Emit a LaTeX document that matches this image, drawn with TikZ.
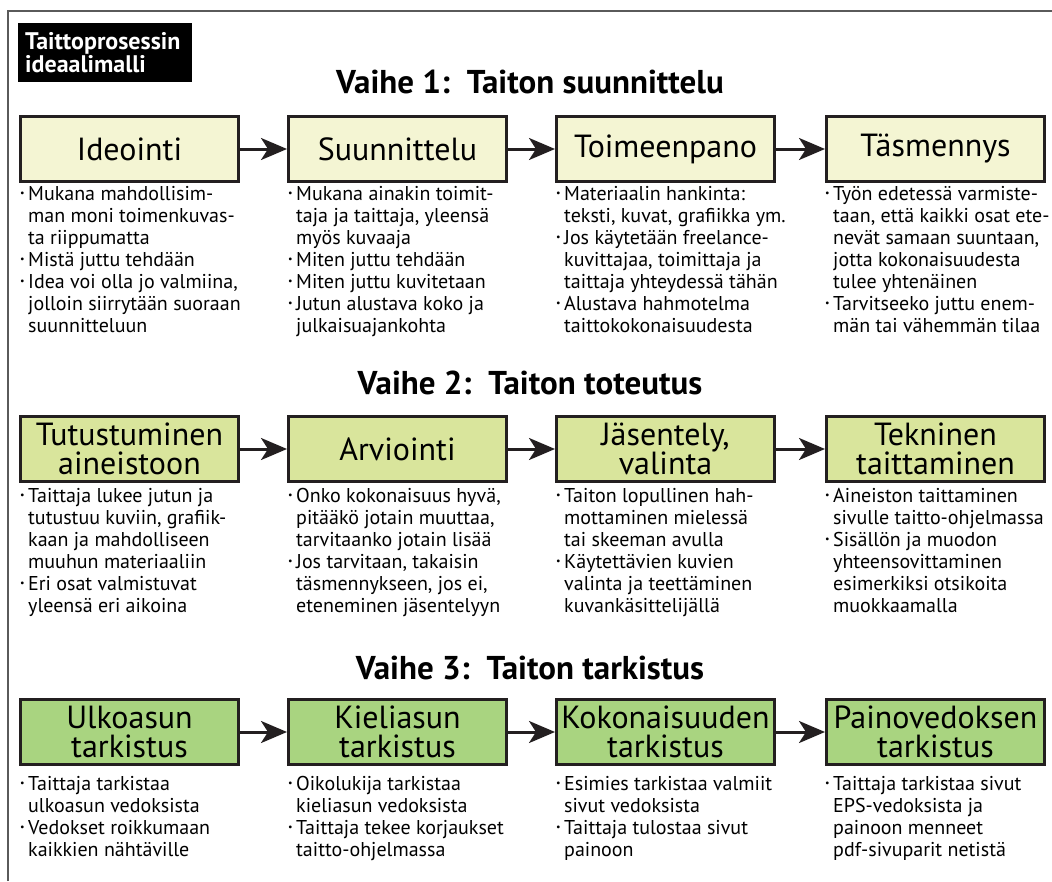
\documentclass[tikz,border=0pt]{standalone}
\usepackage{fontspec}
\setmainfont{PT Sans}
\usetikzlibrary{arrows.meta}
\definecolor{framegray}{HTML}{5A5A5A}
\definecolor{fillA}{HTML}{F4F5D3}
\definecolor{fillB}{HTML}{D9E59C}
\definecolor{fillC}{HTML}{A9D480}
\definecolor{edgec}{HTML}{231F20}
\newcommand\bul{\makebox[8pt][l]{\raisebox{0.2em}{\fontsize{10}{10}\selectfont\textbullet}}}
\newcommand\ind{\hspace*{8pt}}
\tikzset{
  stagebox/.style={draw=edgec, line width=3pt, minimum width=218pt, minimum height=65pt,
    inner sep=0pt, align=center, anchor=north west, font=\fontsize{32}{29.5}\selectfont},
  rowA/.style={stagebox, fill=fillA},
  rowB/.style={stagebox, fill=fillB},
  rowC/.style={stagebox, fill=fillC},
  bullets/.style={anchor=north west, align=left, inner sep=0pt, font=\fontsize{20}{22}\selectfont},
  phasehead/.style={font=\bfseries\fontsize{33}{34}\selectfont, inner sep=0pt},
  arr/.style={draw=edgec, line width=3pt, -{Stealth[length=26pt,width=22pt,inset=7pt]}},
}
\begin{document}
\begin{tikzpicture}[x=1pt,y=-1pt]
\useasboundingbox (0,0) rectangle (1052,881);
\draw[framegray, line width=2pt] (8,881) -- (8,11) -- (1052,11);

\node[fill=black, text=white, anchor=north west, text width=160pt, minimum height=59pt,
  inner xsep=7pt, inner ysep=0pt, align=left, font=\bfseries\fontsize{24}{23}\selectfont]
  (title) at (18,23) {Taittoprosessin\\ideaalimalli};

% Phase 1
\node[phasehead] (h1) at (530,82) {Vaihe 1:\ \ Taiton suunnittelu};
\node[rowA] (a1) at (19,115) {Ideointi};
\node[rowA] (a2) at (287,115) {Suunnittelu};
\node[rowA] (a3) at (555,115) {Toimeenpano};
\node[rowA] (a4) at (825,115) {Täsmennys};
\draw[arr] (a1.east) -- (a2.west);
\draw[arr] (a2.east) -- (a3.west);
\draw[arr] (a3.east) -- (a4.west);

\node[bullets] (ta1) at (20,186) {\bul Mukana mahdollisim-\\ \ind man moni toimenkuvas-\\ \ind ta riippumatta\\ \bul Mistä juttu tehdään\\ \bul Idea voi olla jo valmiina,\\ \ind jolloin siirrytään suoraan\\ \ind suunnitteluun};
\node[bullets] (ta2) at (288,186) {\bul Mukana ainakin toimit-\\ \ind taja ja taittaja, yleensä\\ \ind myös kuvaaja\\ \bul Miten juttu tehdään\\ \bul Miten juttu kuvitetaan\\ \bul Jutun alustava koko ja\\ \ind julkaisuajankohta};
\node[bullets] (ta3) at (556,186) {\bul Materiaalin hankinta:\\ \ind teksti, kuvat, grafiikka ym.\\ \bul Jos käytetään freelance-\\ \ind kuvittajaa, toimittaja ja\\ \ind taittaja yhteydessä tähän\\ \bul Alustava hahmotelma\\ \ind taittokokonaisuudesta};
\node[bullets] (ta4) at (825,186) {\bul Työn edetessä varmiste-\\ \ind taan, että kaikki osat ete-\\ \ind nevät samaan suuntaan,\\ \ind jotta kokonaisuudesta\\ \ind tulee yhtenäinen\\ \bul Tarvitseeko juttu enem-\\ \ind män tai vähemmän tilaa};

% Phase 2
\node[phasehead] (h2) at (530,383) {Vaihe 2:\ \ Taiton toteutus};
\node[rowB] (b1) at (19,415) {Tutustuminen\\aineistoon};
\node[rowB] (b2) at (287,415) {Arviointi};
\node[rowB] (b3) at (555,415) {Jäsentely,\\valinta};
\node[rowB] (b4) at (825,415) {Tekninen\\taittaminen};
\draw[arr] (b1.east) -- (b2.west);
\draw[arr] (b2.east) -- (b3.west);
\draw[arr] (b3.east) -- (b4.west);

\node[bullets] (tb1) at (20,488) {\bul Taittaja lukee jutun ja\\ \ind tutustuu kuviin, grafiik-\\ \ind kaan ja mahdolliseen\\ \ind muuhun materiaaliin\\ \bul Eri osat valmistuvat\\ \ind yleensä eri aikoina};
\node[bullets] (tb2) at (288,488) {\bul Onko kokonaisuus hyvä,\\ \ind pitääkö jotain muuttaa,\\ \ind tarvitaanko jotain lisää\\ \bul Jos tarvitaan, takaisin\\ \ind täsmennykseen, jos ei,\\ \ind eteneminen jäsentelyyn};
\node[bullets] (tb3) at (556,488) {\bul Taiton lopullinen hah-\\ \ind mottaminen mielessä\\ \ind tai skeeman avulla\\ \bul Käytettävien kuvien\\ \ind valinta ja teettäminen\\ \ind kuvankäsittelijällä};
\node[bullets] (tb4) at (825,488) {\bul Aineiston taittaminen\\ \ind sivulle taitto-ohjelmassa\\ \bul Sisällön ja muodon\\ \ind yhteensovittaminen\\ \ind esimerkiksi otsikoita\\ \ind muokkaamalla};

% Phase 3
\node[phasehead] (h3) at (530,668) {Vaihe 3:\ \ Taiton tarkistus};
\node[rowC] (c1) at (19,698) {Ulkoasun\\tarkistus};
\node[rowC] (c2) at (287,698) {Kieliasun\\tarkistus};
\node[rowC] (c3) at (555,698) {Kokonaisuuden\\tarkistus};
\node[rowC] (c4) at (825,698) {Painovedoksen\\tarkistus};
\draw[arr] (c1.east) -- (c2.west);
\draw[arr] (c2.east) -- (c3.west);
\draw[arr] (c3.east) -- (c4.west);

\node[bullets] (tc1) at (20,776) {\bul Taittaja tarkistaa\\ \ind ulkoasun vedoksista\\ \bul Vedokset roikkumaan\\ \ind kaikkien nähtäville};
\node[bullets] (tc2) at (288,776) {\bul Oikolukija tarkistaa\\ \ind kieliasun vedoksista\\ \bul Taittaja tekee korjaukset\\ \ind taitto-ohjelmassa};
\node[bullets] (tc3) at (556,776) {\bul Esimies tarkistaa valmiit\\ \ind sivut vedoksista\\ \bul Taittaja tulostaa sivut\\ \ind painoon};
\node[bullets] (tc4) at (825,776) {\bul Taittaja tarkistaa sivut\\ \ind EPS-vedoksista ja\\ \ind painoon menneet\\ \ind pdf-sivuparit netistä};
\end{tikzpicture}
\end{document}
